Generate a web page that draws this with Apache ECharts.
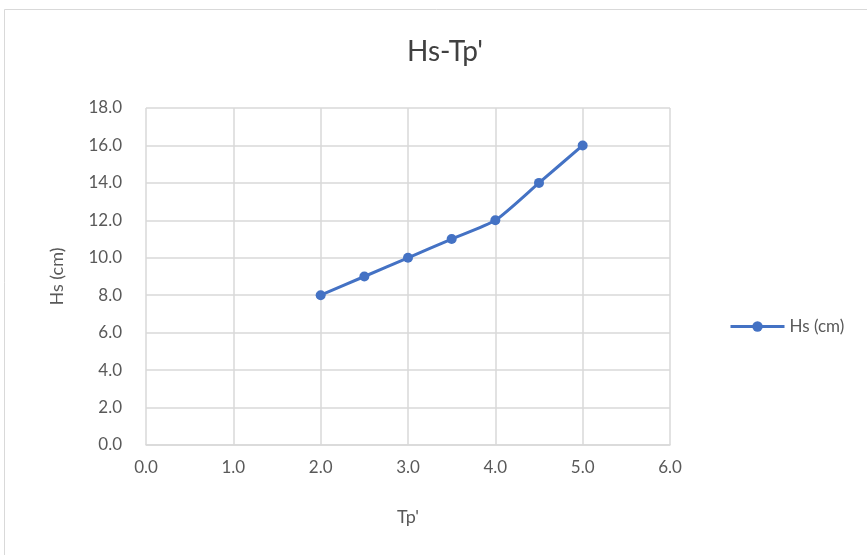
<!DOCTYPE html>
<html><head><meta charset="utf-8">
<script src="https://cdn.jsdelivr.net/npm/echarts@6/dist/echarts.min.js"></script>
<style>html,body{margin:0;padding:0;background:#fff}#c{width:867px;height:555px}</style>
</head><body><div id="c"></div>
<script>
const tpValues = [2.0, 2.5, 3.0, 3.5, 4.0, 4.5, 5.0];
const hsValues = [8.0, 9.0, 10.0, 11.0, 12.0, 14.0, 16.0];
const seriesName = 'Hs (cm)';
const titleText = "Hs-Tp'";
const xName = "Tp'";
const yName = 'Hs (cm)';

const font = "Lato, 'Open Sans', sans-serif";
const chart = echarts.init(document.getElementById('c'), null, {renderer: 'canvas'});
chart.setOption({
  backgroundColor: '#fff',
  animation: false,
  graphic: [{type: 'rect', shape: {x: 4.5, y: 9.5, width: 900, height: 600}, style: {fill: 'none', stroke: '#d9d9d9', lineWidth: 1}, silent: true}],
  title: {text: titleText, left: 440, top: 33, textAlign: 'center',
    textStyle: {fontFamily: font, fontSize: 28, fontWeight: 'normal', color: '#404040'}},
  legend: {left: 724, top: 313, itemWidth: 54, itemHeight: 13, itemGap: 6,
    lineStyle: {width: 3, color: '#4472C4'},
    data: [seriesName], textStyle: {fontFamily: font, fontSize: 17, color: '#595959'}},
  grid: {left: 146, right: 197, top: 108, bottom: 110},
  xAxis: {type: 'value', min: 0, max: 6, interval: 1, name: xName, nameLocation: 'middle', nameGap: 63,
    nameTextStyle: {fontFamily: font, fontSize: 18, color: '#595959'},
    axisLine: {show: true, lineStyle: {color: '#d9d9d9', width: 1.5}}, axisTick: {show: false},
    axisLabel: {formatter: v => v.toFixed(1), fontFamily: font, fontSize: 17, color: '#595959', margin: 14},
    splitLine: {show: true, lineStyle: {color: '#d9d9d9', width: 1.5}}},
  yAxis: {type: 'value', min: 0, max: 18, interval: 2, name: yName, nameLocation: 'middle', nameGap: 80,
    nameTextStyle: {fontFamily: font, fontSize: 18, color: '#595959'},
    axisLine: {show: false}, axisTick: {show: false},
    axisLabel: {formatter: v => v.toFixed(1), fontFamily: font, fontSize: 17, color: '#595959', margin: 24},
    splitLine: {show: true, lineStyle: {color: '#d9d9d9', width: 1.5}}},
  series: [{name: seriesName, type: 'line', smooth: 0.2,
    data: tpValues.map((x, i) => [x, hsValues[i]]),
    symbol: 'circle', symbolSize: 10, lineStyle: {color: '#4472C4', width: 3},
    itemStyle: {color: '#4472C4'}}]
});
</script></body></html>
